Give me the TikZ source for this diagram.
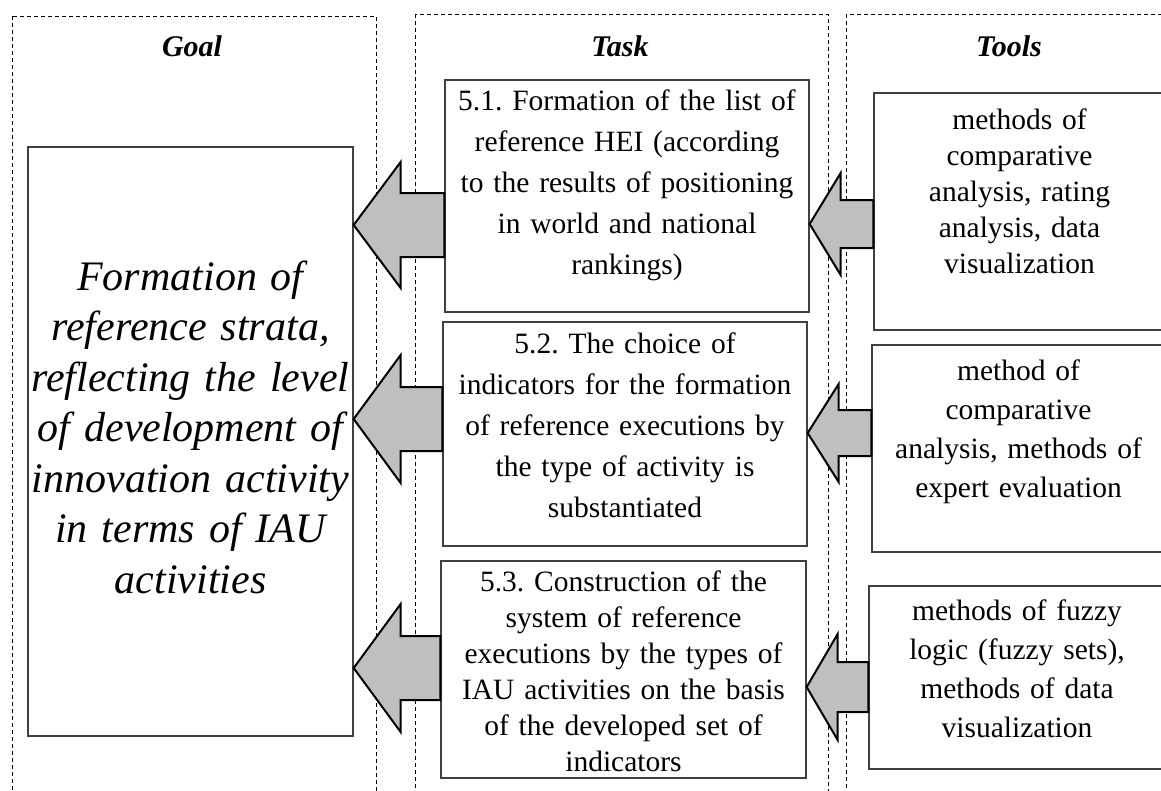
\documentclass[tikz,border=0pt]{standalone}
\usepackage{fontspec}
\setmainfont{Liberation Serif}
\frenchspacing
\usetikzlibrary{calc}

\tikzset{
  lane/.style={draw, line width=0.9pt, dash pattern=on 4pt off 3pt},
  box/.style={draw=black!75, line width=1.3pt, fill=white, inner sep=0pt},
  caption/.style={anchor=base, font=\fontsize{30}{36}\selectfont\bfseries\itshape},
  boxtext/.style={anchor=base, align=center, text width=400pt, inner sep=0pt,
    font=\fontsize{29.5}{#1}\selectfont},
  fatarrow/.style={draw=black, line width=2pt, fill=black!25, line join=miter},
}

% block arrow: tip, tail, half shaft, half head, head length
\newcommand{\blockarrow}[5]{%
  \draw[fatarrow] let \p1=(#1), \p2=(#2) in
    (\p1) -- (\x1+#5,\y1+#4) -- (\x1+#5,\y1+#3) -- (\x2,\y1+#3)
    -- (\x2,\y1-#3) -- (\x1+#5,\y1-#3) -- (\x1+#5,\y1-#4) -- cycle;}

\begin{document}
\begin{tikzpicture}[x=1pt, y=-1pt]
  \useasboundingbox (0,0) rectangle (1161,790);
  \clip (0,0) rectangle (1161,790);

  % lanes
  \draw[lane] (12,16) rectangle (376,820);
  \draw[lane] (415,14) rectangle (828,820);
  \draw[lane] (846,14) rectangle (1220,820);

  \node[caption] (goalcap) at (192,56) {Goal};
  \node[caption] (taskcap) at (620,56) {Task};
  \node[caption] (toolcap) at (1009,56) {Tools};

  % goal
  \node[box, minimum width=325pt, minimum height=589pt] (goal) at (190.5,441.5) {};
  \node[boxtext=50.5, font=\fontsize{42}{50.5}\selectfont\itshape] (goaltext)
    at (goal.north |- 0,290) {Formation of\\reference strata,\\reflecting the level\\of development of\\innovation activity\\in terms of IAU\\activities};

  % tasks
  \node[box, minimum width=364pt, minimum height=232pt] (t1) at (627,196) {};
  \node[box, minimum width=364pt, minimum height=224pt] (t2) at (625,434) {};
  \node[box, minimum width=365pt, minimum height=217pt] (t3) at (623.5,669.5) {};
  \node[boxtext=41] (t1text) at (t1.north |- 0,110)
    {5.1. Formation of the list of\\reference HEI (according\\to the results of positioning\\in world and national\\rankings)};
  \node[boxtext=41] (t2text) at (t2.north |- 0,353)
    {5.2. The choice of\\indicators for the formation\\of reference executions by\\the type of activity is\\substantiated};
  \node[boxtext=36] (t3text) at (t3.north |- 0,591)
    {5.3. Construction of the\\system of reference\\executions by the types of\\IAU activities on the basis\\of the developed set of\\indicators};

  % tools
  \node[box, minimum width=291pt, minimum height=237pt] (s1) at (1019.5,211.5) {};
  \node[box, minimum width=293pt, minimum height=207pt] (s2) at (1018.5,448.5) {};
  \node[box, minimum width=296pt, minimum height=183pt] (s3) at (1017,677.5) {};
  \node[boxtext=36] (s1text) at (s1.north |- 0,129)
    {methods of\\comparative\\analysis, rating\\analysis, data\\visualization};
  \node[boxtext=39] (s2text) at (s2.north |- 0,380)
    {method of\\comparative\\analysis, methods of\\expert evaluation};
  \node[boxtext=39] (s3text) at (s3.north |- 0,620)
    {methods of fuzzy\\logic (fuzzy sets),\\methods of data\\visualization};

  % arrows
  \coordinate (y1) at (0,225);
  \coordinate (y2) at (0,419);
  \coordinate (y3) at (0,668);
  \coordinate (z1) at (0,224);
  \coordinate (z2) at (0,433);
  \coordinate (z3) at (0,687);
  \blockarrow{goal.east |- y1}{t1.west |- y1}{32pt}{63pt}{47pt}
  \blockarrow{goal.east |- y2}{t2.west |- y2}{32pt}{64pt}{47pt}
  \blockarrow{goal.east |- y3}{t3.west |- y3}{32pt}{64pt}{47pt}
  \blockarrow{t1.east |- z1}{s1.west |- z1}{24pt}{51pt}{31pt}
  \blockarrow{t2.east |- z2}{s2.west |- z2}{23pt}{49pt}{31pt}
  \blockarrow{t3.east |- z3}{s3.west |- z3}{25pt}{53pt}{31pt}
\end{tikzpicture}
\end{document}
